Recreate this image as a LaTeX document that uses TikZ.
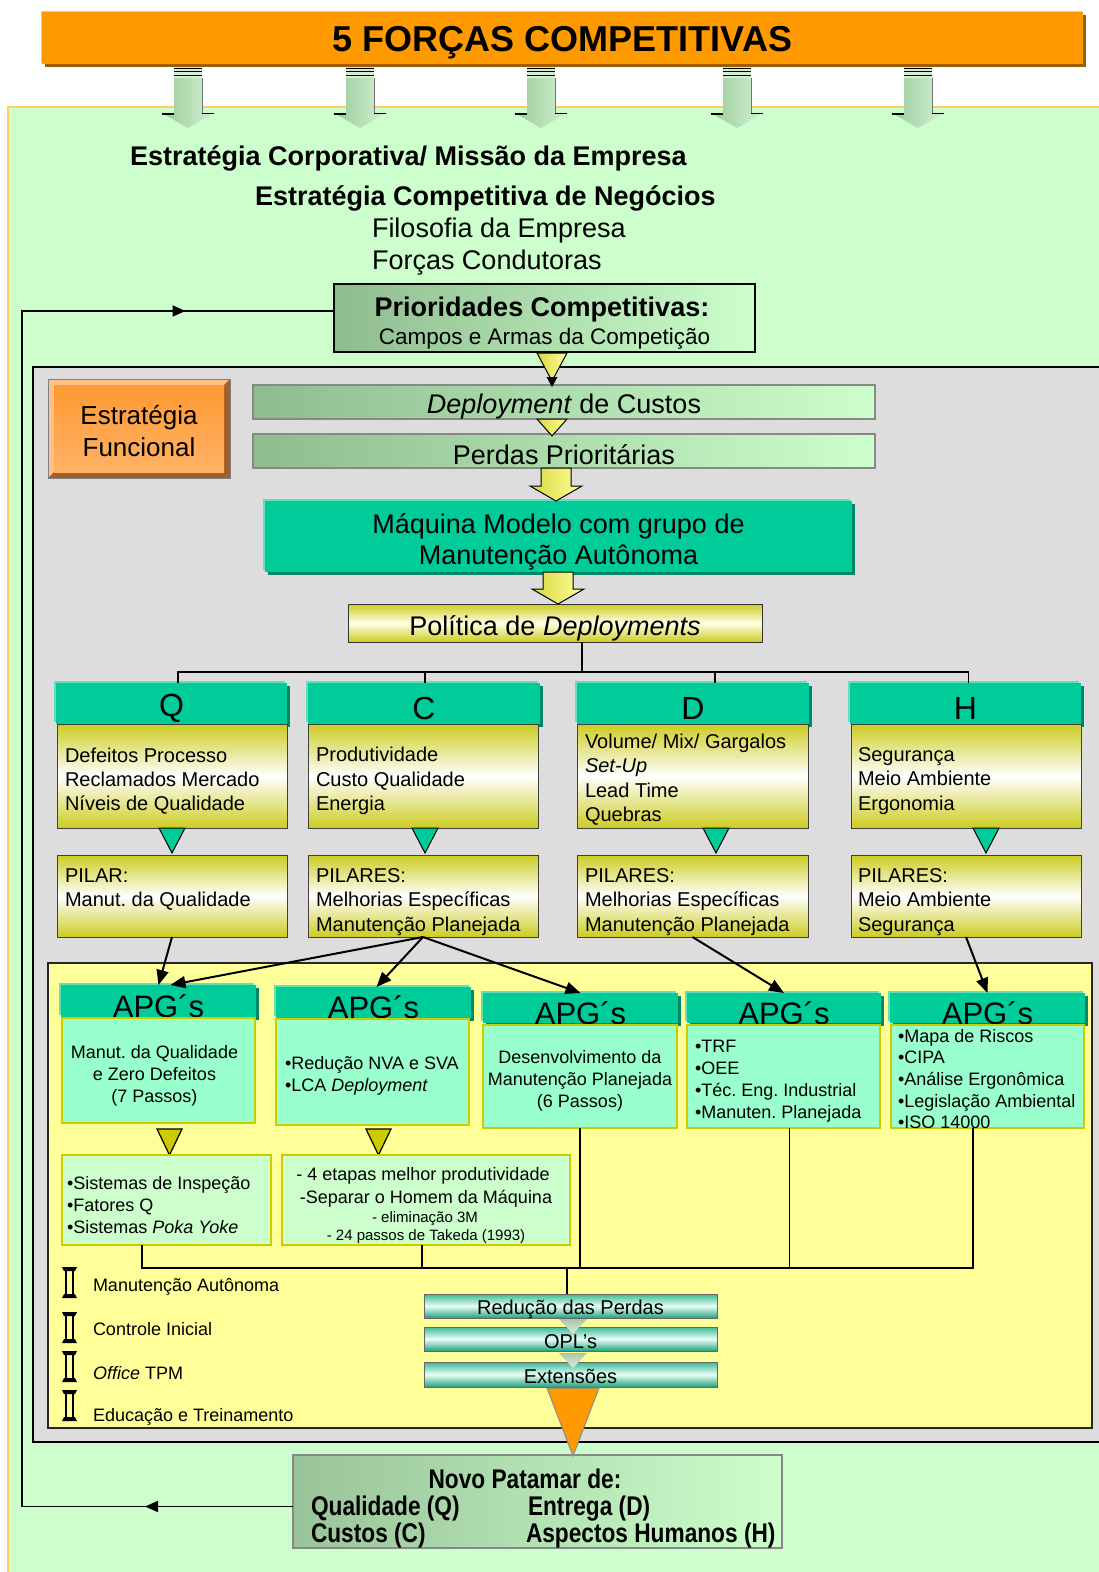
\documentclass[tikz,border=0pt]{standalone}
\usepackage{fontspec}
\setmainfont{Liberation Sans}
\newfontfamily\narrowfont[FakeStretch=0.84]{Liberation Sans}
\usetikzlibrary{shadows,arrows.meta,decorations.markings}
\newcommand\fsz[2]{\fontsize{#1pt}{#2pt}\selectfont}
\frenchspacing

\definecolor{bgGreen}{HTML}{CCFFCC}
\definecolor{bgGray}{HTML}{DDDDDD}
\definecolor{bgYellow}{HTML}{FFFF99}
\definecolor{frameOrange}{HTML}{FFCC66}
\definecolor{titleOrange}{HTML}{FF9900}
\definecolor{titleLight}{HTML}{FFC46A}
\definecolor{titleDark}{HTML}{9C5E00}
\definecolor{tealMain}{HTML}{00CC99}
\definecolor{tealLight}{HTML}{66DDBB}
\definecolor{tealDark}{HTML}{008866}
\definecolor{mintFill}{HTML}{99FFCC}
\definecolor{paleGreen}{HTML}{CCFFCC}
\definecolor{oliveEdge}{HTML}{CCCC00}
\definecolor{oliveShade}{HTML}{CCCC22}
\definecolor{sageGreen}{HTML}{8FBC8F}
\definecolor{novoGreen}{HTML}{99C499}
\definecolor{arrowGreenA}{HTML}{99CC99}
\definecolor{arrowGreenB}{HTML}{D4F0D4}
\definecolor{funcOrange}{HTML}{FF9933}
\definecolor{funcLight}{HTML}{FFB266}
\definecolor{bevelLight}{HTML}{FFC08A}
\definecolor{bevelDark}{HTML}{A0602A}
\definecolor{borderGray}{HTML}{888888}
\definecolor{yelA}{HTML}{D8D840}
\definecolor{yelB}{HTML}{FFFF99}
\definecolor{redTop}{HTML}{3CB896}
\definecolor{redMid}{HTML}{E8FFF6}
\definecolor{redBot}{HTML}{22A07E}
\definecolor{triA}{HTML}{A8C8A8}
\definecolor{triB}{HTML}{DDEEDD}

\begin{document}
\begin{tikzpicture}[x=1pt,y=-1pt,
  every node/.style={inner sep=0pt,outer sep=0pt},
  nw/.style={anchor=north west},
  tealbox/.style={nw, fill=tealMain,
    general shadow={shadow xshift=3pt,shadow yshift=-3pt,fill=tealDark},
    general shadow={shadow xshift=-2pt,shadow yshift=2pt,fill=tealLight}},
  ybody/.style={nw, top color=oliveShade, bottom color=oliveShade, middle color=white,
    draw=black!75, line width=0.8pt},
  apgbody/.style={nw, fill=mintFill, draw=oliveEdge, line width=2.5pt},
  lowbox/.style={nw, fill=paleGreen, draw=oliveEdge, line width=2.5pt},
  sagebar/.style={nw, left color=sageGreen, right color=paleGreen, draw=borderGray, line width=1.5pt},
  redbar/.style={nw, top color=redTop, bottom color=redBot, middle color=redMid,
    draw=black!60, line width=1pt},
  big/.style={font=\fsz{27}{31}},
  hdrtxt/.style={font=\fsz{32}{36}, yshift=-5pt},
  apgtxt/.style={font=\fsz{31}{34}, yshift=-5pt},
  bodytxt/.style={anchor=west, align=left, font=\fsz{20}{24.3}},
  pilartxt/.style={anchor=north west, align=left, font=\fsz{20}{24.5}},
  smalltxt/.style={font=\fsz{18}{22}},
  tealtri/.style={fill=tealMain, draw=black, line width=1pt},
  olivetri/.style={fill=oliveEdge, draw=black, line width=1.2pt},
  yeltri/.style={left color=yelA, right color=yelB, draw=black, line width=1pt},
  link/.style={line width=2pt, -{Triangle[length=15pt,width=12pt]}},
  wire/.style={line width=1.5pt},
  narrowb/.style={font=\narrowfont\bfseries\fsz{27}{30}}
]
\useasboundingbox (0,0) rectangle (1099,1572);

% page and outer green field
\fill[white] (0,0) rectangle (1099,1572);
\fill[bgGreen] (8,107) rectangle (1099,1572);
\draw[frameOrange, line width=1.5pt] (8,1572) -- (8,107) -- (1099,107);

% title bar
\node[nw, fill=titleOrange, minimum width=1041pt, minimum height=52pt,
  general shadow={shadow xshift=3pt,shadow yshift=-3pt,fill=titleDark},
  general shadow={shadow xshift=-1.5pt,shadow yshift=1.5pt,fill=titleLight}]
  (title) at (42,12) {};
\node[font=\bfseries\fsz{36}{40}, yshift=-5pt] (titleT) at (title.center) {5 FORÇAS COMPETITIVAS};

% the five forces pouring down
\foreach \cx in {188,360,541,737,918} {
  \fill[arrowGreenB] ({\cx-14},67) rectangle ({\cx+14},78);
  \foreach \sy in {68,71.5,75}
    \draw[line width=1pt] ({\cx-14},\sy) -- ({\cx+14},\sy);
  \shade[left color=arrowGreenA, right color=arrowGreenB]
    ({\cx-14},78) -- ({\cx+14},78) -- ({\cx+14},113) -- ({\cx+26},113)
    -- (\cx,128) -- ({\cx-26},113) -- ({\cx-14},113) -- cycle;
  \draw[line width=2pt] ({\cx-26},113.5) -- ({\cx-14},113.5);
  \draw[line width=1.5pt] ({\cx+14},113.5) -- ({\cx+26},113.5);
  \draw[black!55, line width=1pt] ({\cx+14.5},78) -- ({\cx+14.5},113);
}

% strategy levels
\node[anchor=base west, font=\bfseries\fsz{27}{30}] (corp) at (130,165.5) {Estratégia Corporativa/ Missão da Empresa};
\node[anchor=base west, font=\bfseries\fsz{27}{30}] (compt) at (255,205.5) {Estratégia Competitiva de Negócios};
\node[anchor=base west, font=\fsz{27}{30}] (filo) at (372,237.5) {Filosofia da Empresa};
\node[anchor=base west, font=\fsz{27}{30}] (forc) at (372,269.5) {Forças Condutoras};

% competitive priorities
\node[nw, left color=sageGreen, right color=paleGreen, draw=black, line width=1.8pt,
  minimum width=421pt, minimum height=68pt] (prio) at (334,284) {};
\node[anchor=base, font=\bfseries\fsz{27}{30}] (prioA) at (542,316) {Prioridades Competitivas:};
\node[anchor=base, font=\fsz{22.5}{26}] (prioB) at (544.5,344.5) {Campos e Armas da Competição};

% functional strategy field
\fill[bgGray] (33,367) rectangle (1099,1442);
\draw[line width=2pt] (1099,367) -- (33,367) -- (33,1442) -- (1099,1442);

\fill[bevelLight] (48,379) -- (230,379) -- (224,385) -- (54,385) -- (54,472) -- (48,478) -- cycle;
\fill[bevelDark] (230,379) -- (230,478) -- (48,478) -- (54,472) -- (224,472) -- (224,385) -- cycle;
\node[top color=funcOrange, bottom color=funcLight, minimum width=170pt, minimum height=87pt]
  (func) at (139,428.5) {};
\node[align=center, font=\fsz{26}{32}, yshift=-3pt] (funcT) at (func.center) {Estratégia\\Funcional};
\draw[black!50, line width=0.6pt] (48,379) rectangle (230,478);

\node[sagebar, minimum width=622pt, minimum height=34pt] (dep) at (253,385) {};
\node[big, yshift=-5pt] (depT) at (dep.center) {\textit{Deployment} de Custos};
\node[sagebar, minimum width=622pt, minimum height=34pt] (perd) at (253,434) {};
\node[big, yshift=-4pt] (perdT) at (perd.center) {Perdas Prioritárias};

\shadedraw[yeltri] (537,353) -- (567,353) -- (552,381) -- cycle;
\fill (552,387) -- (546.5,377) -- (557.5,377) -- cycle;
\shadedraw[yeltri] (537,419) -- (567,419) -- (552,436) -- cycle;

\node[tealbox, minimum width=587pt, minimum height=71pt] (maq) at (265,501) {};
\node[big, align=center, yshift=-5pt] (maqT) at (maq.center) {Máquina Modelo com grupo de\\Manutenção Autônoma};
\shadedraw[yeltri] (541,468) -- (571,468) -- (571,486) -- (582,486) -- (556,501)
  -- (530,486) -- (541,486) -- cycle;

\node[nw, top color=oliveShade, bottom color=oliveShade, middle color=white!90!yellow,
  draw=black!80, line width=1pt, minimum width=414pt, minimum height=38pt] (pol) at (348,604) {};
\node[big, yshift=-5pt] (polT) at (pol.center) {Política de \textit{Deployments}};
\shadedraw[yeltri] (543,572) -- (573,572) -- (573,589) -- (584,589) -- (558,604)
  -- (532,589) -- (543,589) -- cycle;

% Q C D H
\node[tealbox, minimum width=231pt, minimum height=41pt] (hq) at (56,683) {};
\node[tealbox, minimum width=232pt, minimum height=41pt] (hc) at (308,683) {};
\node[tealbox, minimum width=232pt, minimum height=41pt] (hd) at (577,683) {};
\node[tealbox, minimum width=231pt, minimum height=41pt] (hh) at (850,683) {};
\node[hdrtxt] (hqT) at (hq.center) {Q};
\node[hdrtxt] (hcT) at (hc.center) {C};
\node[hdrtxt] (hdT) at (hd.center) {D};
\node[hdrtxt] (hhT) at (hh.center) {H};

\coordinate (treeY) at (0,672);
\draw[wire] ([xshift=27pt]pol.south) -- ([xshift=27pt]pol.south |- treeY);
\draw[wire] ([xshift=6.5pt]hq.north) |- ([xshift=3pt]hh.north |- treeY) -- ([xshift=3pt]hh.north);
\draw[wire] ([xshift=1pt]hc.north) -- ([xshift=1pt]hc.north |- treeY);
\draw[wire] ([xshift=22pt]hd.north) -- ([xshift=22pt]hd.north |- treeY);

\node[ybody, minimum width=230pt, minimum height=104pt] (bq) at (57,724) {};
\node[ybody, minimum width=230pt, minimum height=104pt] (bc) at (308,724) {};
\node[ybody, minimum width=231pt, minimum height=104pt] (bd) at (577,724) {};
\node[ybody, minimum width=230pt, minimum height=104pt] (bh) at (851,724) {};
\node[bodytxt, yshift=-5pt] (bqT) at ([xshift=8pt]bq.west) {Defeitos Processo\\Reclamados Mercado\\Níveis de Qualidade};
\node[bodytxt, yshift=-5pt] (bcT) at ([xshift=8pt]bc.west) {Produtividade\\Custo Qualidade\\Energia};
\node[bodytxt, yshift=-3.5pt] (bdT) at ([xshift=8pt]bd.west) {Volume/ Mix/ Gargalos\\\textit{Set-Up}\\Lead Time\\Quebras};
\node[bodytxt, yshift=-5pt] (bhT) at ([xshift=7pt]bh.west) {Segurança\\Meio Ambiente\\Ergonomia};

\foreach \cx in {172,425,716,986}
  \filldraw[tealtri] ({\cx-13},828) -- ({\cx+13},828) -- (\cx,853) -- cycle;

\node[ybody, minimum width=230pt, minimum height=82pt] (pq) at (57,855) {};
\node[ybody, minimum width=230pt, minimum height=82pt] (pc) at (308,855) {};
\node[ybody, minimum width=231pt, minimum height=82pt] (pd) at (577,855) {};
\node[ybody, minimum width=230pt, minimum height=82pt] (ph) at (851,855) {};
\node[pilartxt] (pqT) at ([xshift=8pt,yshift=-13.5pt]pq.north west) {PILAR:\\Manut. da Qualidade};
\node[pilartxt] (pcT) at ([xshift=8pt,yshift=-13.5pt]pc.north west) {PILARES:\\Melhorias Específicas\\Manutenção Planejada};
\node[pilartxt] (pdT) at ([xshift=8pt,yshift=-13.5pt]pd.north west) {PILARES:\\Melhorias Específicas\\Manutenção Planejada};
\node[pilartxt] (phT) at ([xshift=7pt,yshift=-13.5pt]ph.north west) {PILARES:\\Meio Ambiente\\Segurança};

% autonomous groups field
\fill[bgYellow] (48,963) rectangle (1092,1428);
\draw[black!85, line width=2pt] (48,963) rectangle (1092,1428);

\node[tealbox, minimum width=195pt, minimum height=32pt] (a1h) at (61,985) {};
\node[tealbox, minimum width=195pt, minimum height=31pt] (a2h) at (276,987) {};
\node[tealbox, minimum width=195pt, minimum height=30pt] (a3h) at (483,993) {};
\node[tealbox, minimum width=194pt, minimum height=30pt] (a4h) at (687,993) {};
\node[tealbox, minimum width=195pt, minimum height=30pt] (a5h) at (890,993) {};
\foreach \h in {a1h,a2h,a3h,a4h,a5h}
  \node[apgtxt] (\h T) at (\h.center) {APG´s};

\node[apgbody, minimum width=193pt, minimum height=105pt] (a1b) at (62,1018) {};
\node[apgbody, minimum width=193pt, minimum height=106pt] (a2b) at (276,1019) {};
\node[apgbody, minimum width=194pt, minimum height=103pt] (a3b) at (483,1025) {};
\node[apgbody, minimum width=193pt, minimum height=103pt] (a4b) at (687,1025) {};
\node[apgbody, minimum width=193pt, minimum height=103pt] (a5b) at (891,1025) {};
\node[smalltxt, align=center, yshift=-5pt] (a1T) at ([xshift=-4pt]a1b.center) {Manut. da Qualidade\\e Zero Defeitos\\(7 Passos)};
\node[smalltxt, anchor=west, align=left, yshift=-4pt] (a2T) at ([xshift=9pt]a2b.west) {•Redução NVA e SVA\\•LCA \textit{Deployment}};
\node[smalltxt, align=center, yshift=-4pt] (a3T) at (a3b.center) {Desenvolvimento da\\Manutenção Planejada\\(6 Passos)};
\node[smalltxt, anchor=west, align=left, yshift=-4.5pt] (a4T) at ([xshift=8pt]a4b.west) {•TRF\\•OEE\\•Téc. Eng. Industrial\\•Manuten. Planejada};
\node[anchor=west, align=left, font=\fsz{18}{21.7}, yshift=-2.5pt] (a5T) at ([xshift=7pt]a5b.west)
  {•Mapa de Riscos\\•CIPA\\•Análise Ergonômica\\•Legislação Ambiental\\•ISO 14000};

\draw[link] (pq.south) -- (a1h.north);
\draw[link] (pc.south) -- ([xshift=12pt]a1h.north);
\draw[link] (pc.south) -- ([xshift=3pt]a2h.north);
\draw[link] (pc.south) -- (a3h.north);
\draw[link] (pd.south) -- (a4h.north);
\draw[link] (ph.south) -- (a5h.north);

\filldraw[olivetri] (157,1129) -- (182,1129) -- (169.5,1155) -- cycle;
\filldraw[olivetri] (366,1129) -- (391,1129) -- (378.5,1155) -- cycle;

\node[lowbox, minimum width=209pt, minimum height=90pt] (l1) at (62,1155) {};
\node[smalltxt, anchor=west, align=left, yshift=-5pt] (l1T) at ([xshift=5pt]l1.west)
  {•Sistemas de Inspeção\\•Fatores Q\\•Sistemas \textit{Poka Yoke}};
\node[lowbox, minimum width=288pt, minimum height=90pt] (l2) at (282,1155) {};
\node[anchor=base, font=\fsz{18}{22}] (l2a) at (423,1180) {- 4 etapas melhor produtividade};
\node[anchor=base, font=\fsz{18}{22}] (l2b) at (426,1203) {-Separar o Homem da Máquina};
\node[anchor=base, font=\fsz{15}{18}] (l2c) at (425,1222) {- eliminação 3M};
\node[anchor=base, font=\fsz{15}{18}] (l2d) at (426,1240) {- 24 passos de Takeda (1993)};

% loss reduction chain
\node[redbar, minimum width=293pt, minimum height=24pt] (red) at (424,1294) {};
\node[redbar, minimum width=293pt, minimum height=24pt] (opl) at (424,1327) {};
\node[redbar, minimum width=293pt, minimum height=25pt] (ext) at (424,1362) {};
\node[font=\fsz{20}{22}, yshift=-3pt] (redT) at (red.center) {Redução das Perdas};
\node[font=\fsz{20}{22}, yshift=-3pt] (oplT) at (opl.center) {OPL’s};
\node[font=\fsz{20}{22}, yshift=-2pt] (extT) at (ext.center) {Extensões};
\shade[top color=triA, bottom color=triB] (559,1319) -- (587,1319) -- (573,1334) -- cycle;
\shade[top color=triA, bottom color=triB] (559,1353) -- (587,1353) -- (573,1368) -- cycle;

\coordinate (busY) at (0,1268);
\draw[wire] ([xshift=-24.5pt]l1.south) |- ([xshift=-14.5pt]a5b.south |- busY) -- ([xshift=-14.5pt]a5b.south);
\draw[wire] ([xshift=-4pt]l2.south) -- ([xshift=-4pt]l2.south |- busY);
\draw[wire] (a3b.south) -- (a3b.south |- busY);
\draw[wire] ([xshift=6pt]a4b.south) -- ([xshift=6pt]a4b.south |- busY);
\draw[wire] ([xshift=-3.5pt]red.north) -- ([xshift=-3.5pt]red.north |- busY);

% supporting pillars
\foreach \iy in {1268,1313,1352,1391} {
  \fill ({62},{\iy-1}) -- ({77},{\iy-1}) -- ({75},{\iy+3}) -- ({64},{\iy+3}) -- cycle;
  \fill ({64},{\iy+26}) -- ({75},{\iy+26}) -- ({77},{\iy+30}) -- ({62},{\iy+30}) -- cycle;
  \draw[line width=2.2pt] ({66},{\iy+3}) -- ({66},{\iy+26});
  \draw[line width=1.2pt] ({73},{\iy+3}) -- ({73},{\iy+26});
}
\node[anchor=base west, font=\fsz{18}{22}] (pil1) at (93,1291.5) {Manutenção Autônoma};
\node[anchor=base west, font=\fsz{18}{22}] (pil2) at (93,1335.5) {Controle Inicial};
\node[anchor=base west, font=\fsz{18}{22}] (pil3) at (93,1379.5) {\textit{Office} TPM};
\node[anchor=base west, font=\fsz{18}{22}] (pil4) at (93,1421.5) {Educação e Treinamento};

% new level of results
\node[nw, left color=novoGreen, right color=paleGreen, draw=borderGray, line width=1.5pt,
  minimum width=489pt, minimum height=93pt] (nov) at (293,1455) {};
\node[anchor=base, narrowb] (novT) at (525,1488.7) {Novo Patamar de:};
\node[anchor=base west, narrowb] (novQ) at (311,1515.7) {Qualidade (Q)};
\node[anchor=base west, narrowb] (novD) at (528,1515.7) {Entrega (D)};
\node[anchor=base west, narrowb] (novC) at (311,1542.7) {Custos (C)};
\node[anchor=base west, narrowb] (novH) at (526,1542.7) {Aspectos Humanos (H)};

\filldraw[fill=titleOrange, draw=black!45, line width=1pt] (547,1388) -- (599,1388) -- (573,1456) -- cycle;

% feedback loop
\coordinate (fbB) at (22,1506.5);
\coordinate (fbT) at (22,311);
\draw[line width=1.8pt, postaction={decorate}, decoration={markings,
    mark=at position 148pt with {\arrow{Triangle[length=13pt,width=11pt]}},
    mark=at position 1630pt with {\arrow{Triangle[length=13pt,width=11pt]}}}]
  ([yshift=-5pt]nov.west) -- (fbB) -- (fbT) -- ([yshift=7pt]prio.west);
\end{tikzpicture}
\end{document}
